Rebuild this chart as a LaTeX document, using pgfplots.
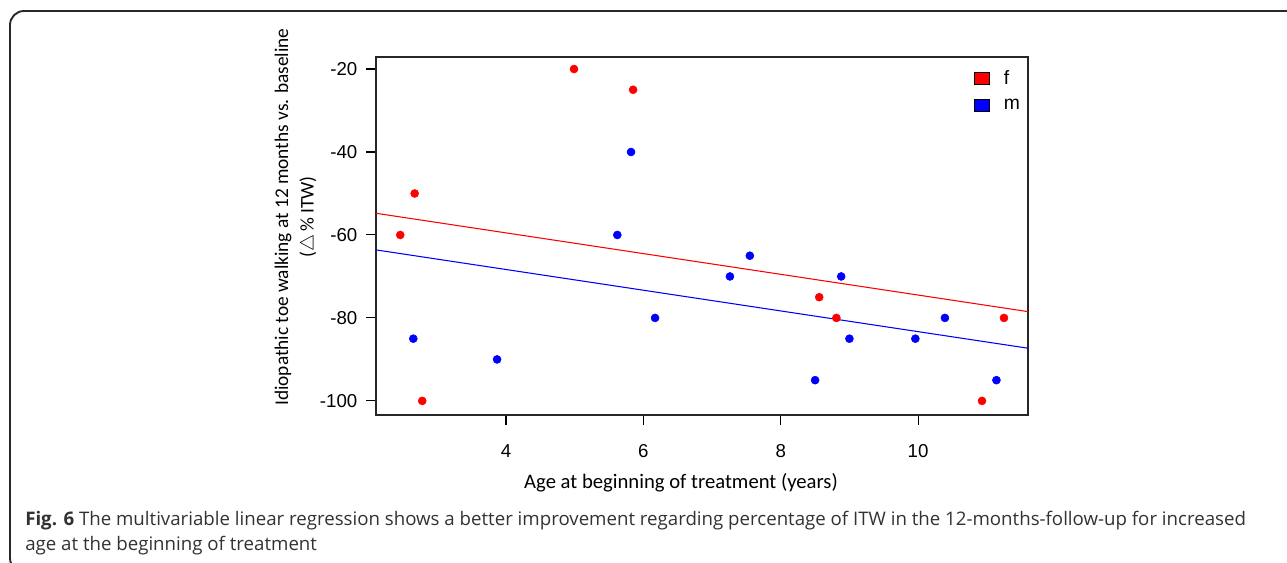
\documentclass[border=0pt]{standalone}
\usepackage{pgfplots}
\pgfplotsset{compat=1.18}
\usepackage{pgfplotstable}
\usepackage{fontspec}
\setmainfont{Carlito}
\newfontfamily\arial{Liberation Sans}
\newfontfamily\capfont{Open Sans}
\newlength\px
\setlength\px{0.75pt}
\definecolor{frame}{RGB}{40,40,40}
\definecolor{captext}{RGB}{50,50,50}
\pgfplotstableread{
x y
2.46 -60
2.67 -50
2.78 -100
4.99 -20
5.85 -25
8.56 -75
8.81 -80
10.93 -100
11.25 -80
}\female
\pgfplotstableread{
x y
2.65 -85
3.87 -90
5.62 -60
5.82 -40
6.17 -80
7.26 -70
7.55 -65
8.50 -95
8.88 -70
9.00 -85
9.96 -85
10.39 -80
11.14 -95
}\male
\begin{document}
\begin{tikzpicture}
\path[use as bounding box] (0,0) rectangle (1287\px,-563\px);
\draw[frame, line width=1.4pt, rounded corners=14\px] (1300\px,-11\px) -- (10\px,-11\px) -- (10\px,-572\px) -- (1300\px,-572\px);
\begin{axis}[
  at={(376\px,-57\px)}, anchor=north west,
  scale only axis, width=652\px, height=358\px,
  xmin=2.107, xmax=11.6, ymin=-103.4, ymax=-17.1,
  xtick={4,6,8,10}, xticklabels={4,6,8,10},
  ytick={-100,-80,-60,-40,-20}, yticklabels={-100,-80,-60,-40,-20},
  xtick pos=bottom, ytick pos=left,
  tick align=outside, major tick length=10\px,
  tick style={black, line width=0.8pt},
  axis line style={black!85, line width=0.8pt},
  ticklabel style={font=\arial\fontsize{14}{16}\selectfont},
  xticklabel style={yshift=-15\px},
  yticklabel style={xshift=-4\px},
  legend style={at={(rel axis cs:0.910,0.978)}, anchor=north west, draw=none, fill=none,
    font=\arial\fontsize{14.5}{16}\selectfont, row sep=7\px,
    /tikz/every odd column/.append style={column sep=12\px}},
  legend cell align=left,
]
\addlegendimage{legend image code/.code={\draw[black, fill=red, line width=0.5pt] (0,-6\px) rectangle (15\px,6\px);}}
\addlegendentry{f}
\addlegendimage{legend image code/.code={\draw[black, fill=blue, line width=0.5pt] (0,-6\px) rectangle (15\px,6\px);}}
\addlegendentry{m}
\addplot[red, line width=0.8pt, forget plot] coordinates {(2.107,-54.77) (11.6,-78.48)};
\addplot[blue, line width=0.8pt, forget plot] coordinates {(2.107,-63.6) (11.6,-87.3)};
\addplot[only marks, mark=*, mark size=3pt, mark options={draw=red, fill=red}, forget plot] table[x=x,y=y] {\female};
\addplot[only marks, mark=*, mark size=3pt, mark options={draw=blue, fill=blue}, forget plot] table[x=x,y=y] {\male};
\end{axis}
\node[rotate=90, align=center, font=\fontsize{14.5}{19}\selectfont, anchor=center] at (296\px,-217\px)
  {Idiopathic toe walking at 12 months vs. baseline\\(\(\bigtriangleup\)\,\% ITW)};
\node[font=\fontsize{15.5}{18}\selectfont, anchor=base] at (681\px,-488\px) {Age at beginning of treatment (years)};
\node[anchor=base west, text=captext, font=\capfont\fontsize{14}{16}\selectfont, inner sep=0pt] at (25\px,-525\px)
  {\textbf{Fig. 6} The multivariable linear regression shows a better improvement regarding percentage of ITW in the 12-months-follow-up for increased};
\node[anchor=base west, text=captext, font=\capfont\fontsize{14}{16}\selectfont, inner sep=0pt] at (25\px,-550\px)
  {age at the beginning of treatment};
\end{tikzpicture}
\end{document}
